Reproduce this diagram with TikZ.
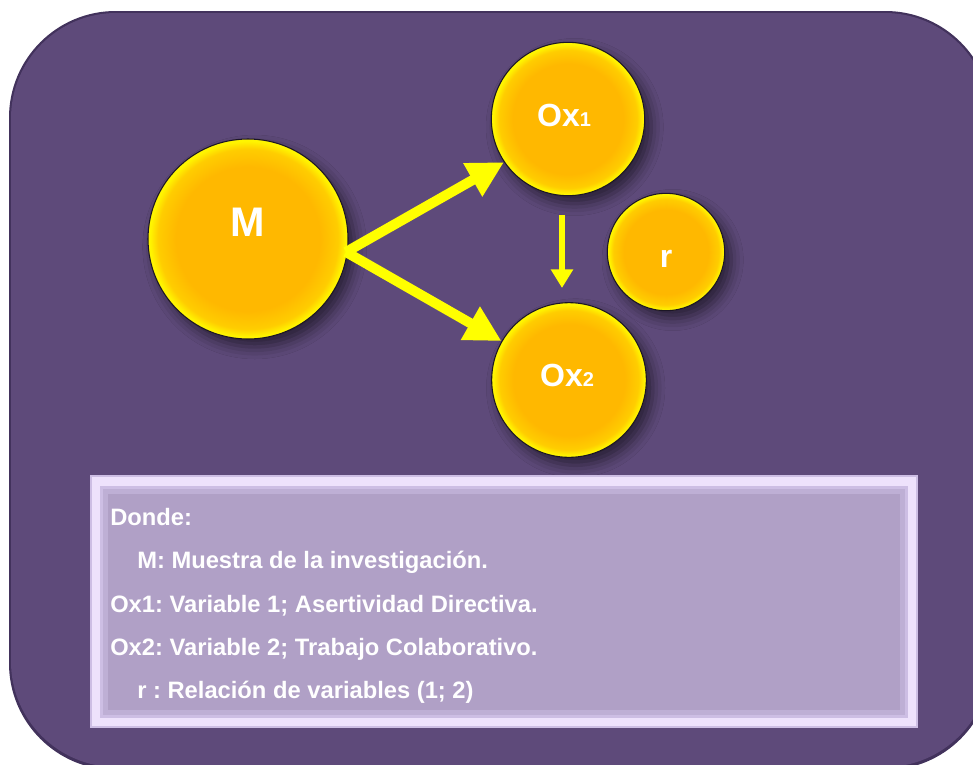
\documentclass[tikz,border=0pt]{standalone}
\usepackage{fontspec}
\setmainfont{Liberation Sans}
\usetikzlibrary{arrows.meta,shadows.blur}
\definecolor{bgpurple}{RGB}{94,74,122}
\definecolor{bgedge}{RGB}{66,50,92}
\definecolor{leginner}{RGB}{176,160,198}
\definecolor{legmid}{RGB}{205,190,228}
\definecolor{leglight}{RGB}{238,226,252}
\definecolor{ballc}{RGB}{255,184,0}
\definecolor{ballm}{RGB}{255,205,0}
\definecolor{ballrim}{RGB}{255,245,0}
\definecolor{arrowyellow}{RGB}{255,255,0}
\pgfdeclareradialshading{ball}{\pgfpoint{0bp}{0bp}}{color(0bp)=(ballc); color(18bp)=(ballc); color(22.5bp)=(ballm); color(24.5bp)=(ballrim); color(25bp)=(ballrim); color(50bp)=(ballrim)}
\tikzset{
  ballnode/.style={circle, shading=ball, draw=black!70!bgpurple, line width=0.8pt, inner sep=0pt,
    blur shadow={shadow xshift=5pt, shadow yshift=-6pt, shadow blur radius=9pt, shadow opacity=55}},
  balltext/.style={text=white, font=\bfseries, inner sep=0pt},
  bigarrow/.style={draw=arrowyellow, line width=7.5pt, -{Triangle[length=27pt,width=27pt]}},
  smallarrow/.style={draw=arrowyellow, line width=5pt, -{Triangle[length=14pt,width=16pt]}},
  legtext/.style={text=white, font=\bfseries\fontsize{17.8}{20}\selectfont, anchor=base west, inner sep=0pt}
}
\frenchspacing
\begin{document}
\begin{tikzpicture}[x=0.75pt,y=-0.75pt]
\useasboundingbox (0,0) rectangle (973,764);
\fill[white] (0,0) rectangle (973,764);
\begin{scope}
\clip (0,0) rectangle (973,764);
\fill[bgedge, rounded corners=80pt] (9,11) rectangle (992,770);
\fill[bgpurple, rounded corners=79pt] (11,13) rectangle (990,767);
\end{scope}

% balls
\node[ballnode, minimum size=150pt] (M) at (248,239) {};
\node[ballnode, minimum size=115pt] (Ox1) at (568,119) {};
\node[ballnode, minimum size=88pt] (r) at (666,252) {};
\node[ballnode, minimum size=116pt] (Ox2) at (569,380) {};

\node[balltext, font=\bfseries\fontsize{31}{36}\selectfont] (Mt) at (248,222) {M};
\node[balltext, font=\bfseries\fontsize{24}{28}\selectfont, anchor=base] (Ox1t) at (564,126) {Ox{\fontsize{15}{17}\selectfont 1}};
\node[balltext, font=\bfseries\fontsize{24}{28}\selectfont, anchor=base] (Ox2t) at (567,386) {Ox{\fontsize{15}{17}\selectfont 2}};
\node[balltext, font=\bfseries\fontsize{24}{28}\selectfont, anchor=base] (rt) at (666,267) {r};

% arrows
\coordinate (Mo) at (346,252);
\coordinate (v1) at (562,215);
\coordinate (v2) at (562,288);
\draw[bigarrow] (Mo) -- (Ox1.214);
\draw[bigarrow] (Mo) -- (Ox2.150);
\draw[smallarrow] (v1) -- (v2);

% legend box
\fill[leglight] (90,475) rectangle (918,728);
\draw[legmid, line width=1pt] (91,476) rectangle (917,727);
\fill[legmid] (100,486) rectangle (908,718);
\fill[leginner!50!legmid] (103,489) rectangle (905,715);
\fill[leginner] (108,494) rectangle (900,710);

\node[legtext] (l1) at (110,525) {Donde:};
\node[legtext] (l2) at (137,568) {M: Muestra de la investigación.};
\node[legtext] (l3) at (110,612) {Ox1: Variable 1; Asertividad Directiva.};
\node[legtext] (l4) at (110,655) {Ox2: Variable 2; Trabajo Colaborativo.};
\node[legtext] (l5) at (137,698) {r : Relación de variables (1; 2)};
\end{tikzpicture}
\end{document}
